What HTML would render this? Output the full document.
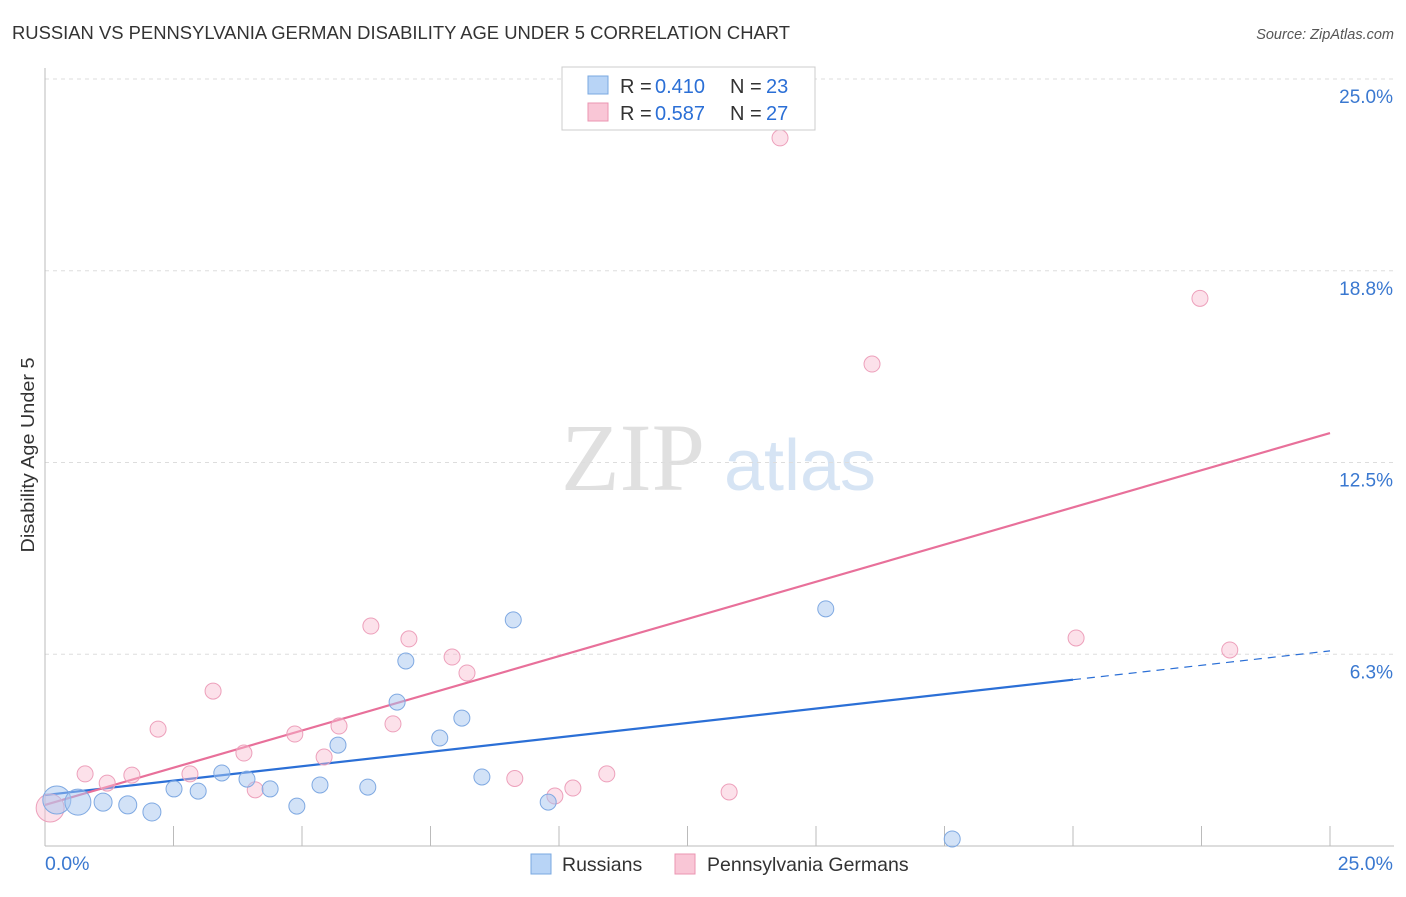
<!DOCTYPE html>
<html><head><meta charset="utf-8"><style>
body{margin:0;background:#fff;font-family:"Liberation Sans",sans-serif;}
</style></head><body>
<svg id="chart" width="1406" height="892" xmlns="http://www.w3.org/2000/svg">
<text x="12" y="39" font-size="18" fill="#333" textLength="778" lengthAdjust="spacingAndGlyphs">RUSSIAN VS PENNSYLVANIA GERMAN DISABILITY AGE UNDER 5 CORRELATION CHART</text>
<text x="1394" y="39" font-size="14.5" fill="#555" font-style="italic" text-anchor="end">Source: ZipAtlas.com</text>
<text x="34" y="455" font-size="18" fill="#333" text-anchor="middle" textLength="195" lengthAdjust="spacingAndGlyphs" transform="rotate(-90 34 455)">Disability Age Under 5</text>
<g>
<text x="633" y="490" font-size="96" fill="#e0e0e0" font-family="Liberation Serif,serif" text-anchor="middle">ZIP</text>
<text x="800" y="490" font-size="72" fill="#d6e4f4" text-anchor="middle">atlas</text>
</g>
<g id="grid"></g><g id="axes"></g><g id="lines"></g><g id="points"></g>
<g>
<rect x="562" y="67" width="253" height="63" fill="#fff" stroke="#ccc"/>
<rect x="588" y="76" width="20" height="18" fill="#b8d4f6" stroke="#7aa8e0"/>
<text x="620" y="93" font-size="20" fill="#333">R =</text>
<text x="655" y="93" font-size="20" fill="#2b6fd6">0.410</text>
<text x="730" y="93" font-size="20" fill="#333">N =</text>
<text x="766" y="93" font-size="20" fill="#2b6fd6">23</text>
<rect x="588" y="103" width="20" height="18" fill="#f9c6d6" stroke="#eb95b2"/>
<text x="620" y="120" font-size="20" fill="#333">R =</text>
<text x="655" y="120" font-size="20" fill="#2b6fd6">0.587</text>
<text x="730" y="120" font-size="20" fill="#333">N =</text>
<text x="766" y="120" font-size="20" fill="#2b6fd6">27</text>
</g>
<g>
<rect x="531" y="854" width="20" height="20" fill="#b8d4f6" stroke="#7aa8e0"/>
<text x="562" y="871" font-size="19.5" fill="#333">Russians</text>
<rect x="675" y="854" width="20" height="20" fill="#f9c6d6" stroke="#eb95b2"/>
<text x="707" y="871" font-size="19.5" fill="#333">Pennsylvania Germans</text>
</g>
</svg>
<script>
const yTicks=[25,18.75,12.5,6.25];
const yTickLabels=["25.0%","18.8%","12.5%","6.3%"];
const xTickLabels=["0.0%","25.0%"];
const blueX=[0.23,0.64,1.13,1.61,2.08,2.51,2.98,3.44,3.93,4.38,4.90,5.35,5.70,6.28,6.85,7.02,7.68,8.11,8.50,9.11,9.79,15.19,17.65];
const blueY=[1.50,1.43,1.43,1.34,1.11,1.86,1.79,2.38,2.18,1.86,1.30,1.99,3.29,1.92,4.69,6.03,3.52,4.17,2.25,7.37,1.43,7.73,0.23];
const blueR=[14,13,9,9,9,8,8,8,8,8,8,8,8,8,8,8,8,8,8,8,8,8,8];
const pinkX=[0.10,0.78,1.21,1.69,2.20,2.82,3.27,3.87,4.09,4.86,5.43,5.72,6.34,6.77,7.08,7.92,8.21,9.14,9.92,10.27,10.93,13.31,14.30,16.09,20.06,22.47,23.05];
const pinkY=[1.24,2.35,2.05,2.31,3.81,2.35,5.05,3.03,1.83,3.65,2.90,3.91,7.17,3.98,6.75,6.16,5.64,2.20,1.63,1.89,2.35,1.76,23.08,15.71,6.78,17.85,6.39];
const pinkR=[14,8,8,8,8,8,8,8,8,8,8,8,8,8,8,8,8,8,8,8,8,8,8,8,8,8,8];
const blueLine=[1.66,6.36];
const pinkLine=[1.34,13.46];
const X0=45,X1=1330,Y0=846,Y1=79;
const sx=v=>X0+(X1-X0)*v/25, sy=v=>Y0-(Y0-Y1)*v/25;
const NS="http://www.w3.org/2000/svg";
function mk(p,t,a){const e=document.createElementNS(NS,t);for(const k in a)e.setAttribute(k,a[k]);document.getElementById(p).appendChild(e);return e;}
yTicks.forEach((v,i)=>{
 const l=mk('grid','line',{x1:X0,x2:1394,y1:sy(v),y2:sy(v),stroke:'#ddd','stroke-dasharray':'4,4'});
 
 
 const t=mk('grid','text',{x:1393,y:sy(v)+24,'font-size':19,fill:'#3a78d0','text-anchor':'end'});
 t.textContent=yTickLabels[i];
 
 
});
const ax=mk('axes','line',{x1:X0,x2:X0,y1:68,y2:Y0,stroke:'#bbb'});


const bx=mk('axes','line',{x1:X0,x2:1394,y1:Y0,y2:Y0,stroke:'#bbb'});


for(let i=1;i<=10;i++){const t=mk('axes','line',{x1:sx(i*2.5),x2:sx(i*2.5),y1:826,y2:Y0,stroke:'#bbb'});
 
 }
[[0,'start',45],[25,'end',1393]].forEach((d,i)=>{const t=mk('axes','text',{x:d[2],y:870,'font-size':19.5,fill:'#3a78d0','text-anchor':d[1]});t.textContent=xTickLabels[i];
 
 });
const bxe=20;
const bl=mk('lines','line',{x1:sx(0),y1:sy(blueLine[0]),x2:sx(bxe),y2:sy(blueLine[0]+(blueLine[1]-blueLine[0])*bxe/25),stroke:'#2b6fd6','stroke-width':2.2});


const bd=mk('lines','line',{x1:sx(bxe),y1:sy(blueLine[0]+(blueLine[1]-blueLine[0])*bxe/25),x2:sx(25),y2:sy(blueLine[1]),stroke:'#2b6fd6','stroke-width':1.2,'stroke-dasharray':'8,6'});


const pl=mk('lines','line',{x1:sx(0),y1:sy(pinkLine[0]),x2:sx(25),y2:sy(pinkLine[1]),stroke:'#e8709a','stroke-width':2.2});


pinkX.forEach((v,i)=>{const c=mk('points','circle',{cx:sx(v),cy:sy(pinkY[i]),r:pinkR[i],fill:'rgba(248,188,208,0.45)',stroke:'#eda0bb','stroke-width':1});
 
 });
blueX.forEach((v,i)=>{const c=mk('points','circle',{cx:sx(v),cy:sy(blueY[i]),r:blueR[i],fill:'rgba(166,198,240,0.5)',stroke:'#7fa9e2','stroke-width':1});
 
 });
</script>
</body></html>
